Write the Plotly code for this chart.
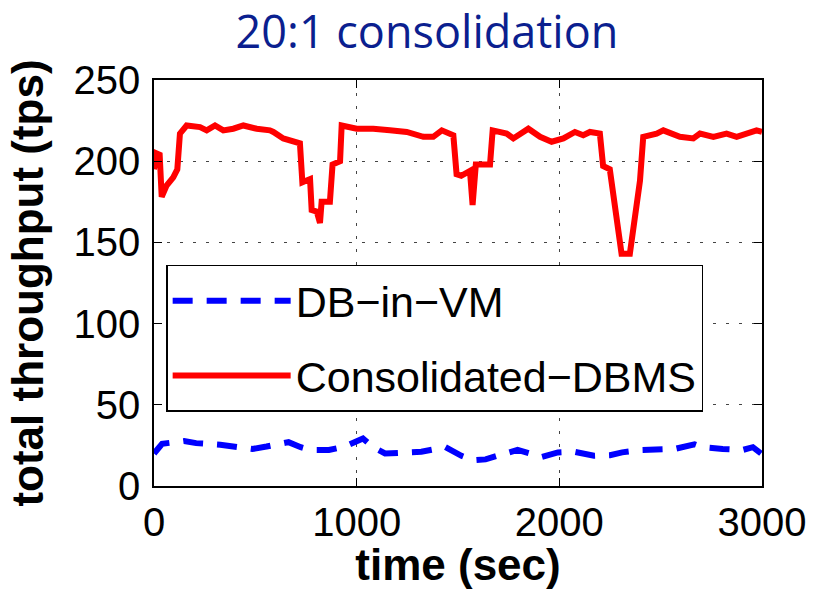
import plotly.graph_objects as go

# ---- data ----
red_x = [0, 10, 28, 38, 62, 95, 115, 128, 161, 200, 227, 260, 301, 342, 391, 441, 507, 572, 589,
         638, 704, 720, 732, 770, 778, 803, 819, 827, 868, 881, 918, 926, 1000, 1082, 1164, 1247,
         1329, 1378, 1420, 1477, 1493, 1516, 1559, 1572, 1588, 1658, 1671, 1740, 1773, 1847, 1905,
         1962, 2020, 2077, 2118, 2151, 2200, 2216, 2249, 2266, 2307, 2348, 2398, 2414, 2480, 2513,
         2595, 2661, 2694, 2760, 2825, 2875, 2924, 2973, 3000]
red_y = [195, 205, 204, 178, 185, 190, 195, 217, 222, 221, 221, 219, 222, 219, 220, 222, 220, 219, 218,
         214, 211, 211, 187, 189, 170, 169, 162, 175, 175, 198, 200, 222, 220, 220, 219, 218,
         215, 215, 219, 216, 192, 191, 194, 173, 198, 198, 219, 217, 214, 220, 215,
         212, 214, 218, 216, 218, 217, 197, 195, 178, 143, 143, 188, 215, 217, 219,
         215, 214, 217, 215, 217, 215, 217, 219, 218]

blue_x = [0, 10, 40, 149, 208, 327, 387, 486, 555, 664, 724, 773, 863, 942, 1031, 1081, 1140, 1239,
          1319, 1438, 1517, 1576, 1636, 1695, 1794, 1913, 1993, 2072, 2171, 2250, 2310, 2409, 2508,
          2568, 2667, 2706, 2806, 2905, 2955, 3000]
blue_y = [20, 21.7, 26, 27.7, 26.4, 25.4, 24.3, 22.8, 24.3, 27, 23.9, 22.2, 22.2, 24.3, 29.2, 23.9, 20, 20.7,
          21.1, 23.9, 18.6, 15.8, 16.4, 18.6, 22.2, 17.9, 20.7, 21.1, 18.6, 19, 20.7, 22.2, 22.8,
          22.8, 25.6, 23.9, 22.8, 22.2, 23.9, 19.6]

x_ticks = [0, 1000, 2000, 3000]
y_ticks = [0, 50, 100, 150, 200, 250]

title_text = "20:1 consolidation"
x_title = "time (sec)"
y_title = "total throughput (tps)"
name_blue = "DB\u2212in\u2212VM"
name_red = "Consolidated\u2212DBMS"

FONT = "Liberation Sans, Arial, Helvetica, sans-serif"

fig = go.Figure()
fig.add_trace(go.Scatter(x=blue_x, y=blue_y, mode="lines", name=name_blue, legendgroup="a",
                         line=dict(color="#0000ff", width=6, dash="20px,14px")))
fig.add_trace(go.Scatter(x=red_x, y=red_y, mode="lines", name=name_red, legendgroup="b",
                         line=dict(color="#ff0000", width=6)))

axis_common = dict(
    showline=True, linecolor="black", linewidth=1.5, mirror="ticks",
    ticks="inside", ticklen=8, tickwidth=1, tickcolor="black",
    showgrid=True, gridcolor="#444444", gridwidth=1, griddash="3px,10px",
    zeroline=False, tickfont=dict(family=FONT, size=40, color="black"),
)

fig.update_layout(
    width=815, height=589,
    paper_bgcolor="white", plot_bgcolor="white",
    margin=dict(l=154, r=53, t=80, b=103, autoexpand=False),
    title=dict(text=title_text, x=427 / 815, xanchor="center", y=1 - 32 / 589, yanchor="middle",
               xref="container", yref="container",
               font=dict(family="Open Sans, Noto Sans, sans-serif", size=45, color="#0b1f8f")),
    xaxis=dict(range=[0, 3000], tickvals=x_ticks, **axis_common,
               title=dict(text="<b>" + x_title + "</b>", standoff=0,
                          font=dict(family=FONT, size=44, color="black"))),
    yaxis=dict(range=[0, 250], tickvals=y_ticks, ticklabelstandoff=4, **axis_common,
               title=dict(text="<b>" + y_title + "</b>", standoff=16,
                          font=dict(family=FONT, size=44, color="black"))),
    legend=dict(x=0.02, y=0.545, xanchor="left", yanchor="top",
                bgcolor="white", bordercolor="black", borderwidth=1.5,
                font=dict(family=FONT, size=43, color="black"),
                traceorder="grouped", tracegroupgap=16, itemwidth=118),
    showlegend=True,
)

fig.write_html("out.html", config={"displayModeBar": False},
               post_script="document.body.style.margin='0';document.body.style.padding='0';")
